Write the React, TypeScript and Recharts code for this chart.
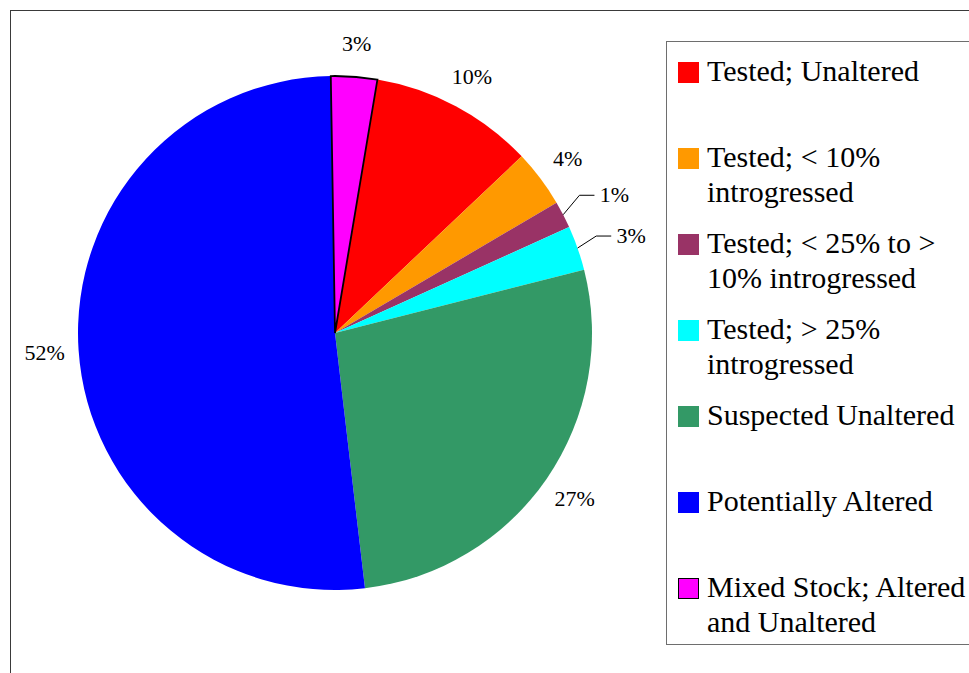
import React from "react";
import { PieChart, Pie, Cell, Legend } from "recharts";

const categories = [
  "Tested; Unaltered",
  "Tested; < 10% introgressed",
  "Tested; < 25% to > 10% introgressed",
  "Tested; > 25% introgressed",
  "Suspected Unaltered",
  "Potentially Altered",
  "Mixed Stock; Altered and Unaltered",
];
const shares = [10.3, 3.6, 1.7, 2.8, 27.1, 51.6, 2.9];
const pctLabels = ["10%", "4%", "1%", "3%", "27%", "52%", "3%"];
const colors = ["#FF0000", "#FF9900", "#993366", "#00FFFF", "#339966", "#0000FF", "#FF00FF"];
const outlined = ["Mixed Stock; Altered and Unaltered"];
const calloutSlices = ["Tested; < 25% to > 10% introgressed", "Tested; > 25% introgressed"];

const data = categories.map((name, i) => ({ name, value: shares[i], label: pctLabels[i] }));

const FONT = "'Liberation Serif', 'Times New Roman', serif";
const RAD = Math.PI / 180;

const polar = (cx: number, cy: number, r: number, angle: number) => ({
  x: cx + r * Math.cos(-angle * RAD),
  y: cy + r * Math.sin(-angle * RAD),
});

const renderLabel = (props: any) => {
  const { cx, cy, outerRadius, index, startAngle, endAngle } = props;
  const mid = props.midAngle ?? (startAngle + endAngle) / 2;
  const entry = data[index];
  const text = entry.label;
  if (calloutSlices.includes(entry.name)) {
    const t = polar(cx, cy, outerRadius + 55, mid - 1);
    const s = polar(cx, cy, outerRadius, mid);
    const ly = t.y + 1;
    return (
      <g key={`lbl-${index}`}>
        <path
          d={`M${s.x},${s.y}L${t.x - 35},${ly}L${t.x - 20},${ly}`}
          stroke="#000"
          strokeWidth={1}
          fill="none"
        />
        <text x={t.x} y={t.y} dy="0.35em" textAnchor="middle" fontFamily={FONT} fontSize={22} fill="#000">
          {text}
        </text>
      </g>
    );
  }
  const p = polar(cx, cy, outerRadius + 34, mid);
  return (
    <text key={`lbl-${index}`} x={p.x} y={p.y} dy="0.35em" textAnchor="middle" fontFamily={FONT} fontSize={22} fill="#000">
      {text}
    </text>
  );
};

const renderLegend = () => (
  <div
    style={{
      position: "relative",
      width: 400,
      height: 604,
      boxSizing: "border-box",
      border: "1.3px solid #6e6e6e",
      background: "#fff",
      fontFamily: FONT,
      fontSize: 30,
      lineHeight: "35px",
      color: "#000",
    }}
  >
    {data.map((d, i) => (
      <div
        key={d.name}
        style={{ position: "absolute", left: 0, top: 11 + i * 86, height: 86, width: 400 }}
      >
        <div
          style={{
            position: "absolute",
            left: 11,
            top: 9,
            width: 21,
            height: 21,
            boxSizing: "border-box",
            background: colors[i],
            border: outlined.includes(d.name) ? "1.5px solid #000" : "none",
          }}
        />
        <div style={{ position: "absolute", left: 40, top: 0, width: 272 }}>{d.name}</div>
      </div>
    ))}
  </div>
);

export default function App() {
  return (
    <div
      style={{
        position: "absolute",
        left: 0,
        top: 0,
        width: 969,
        height: 673,
        overflow: "hidden",
        background: "#fff",
      }}
    >
      <div
        style={{
          position: "absolute",
          left: 10,
          top: 10,
          width: 1100,
          height: 800,
          border: "1.6px solid #3a3a3a",
          boxSizing: "border-box",
        }}
      />
      <div style={{ position: "absolute", left: 0, top: 0 }}>
        <PieChart width={969} height={673} margin={{ top: 0, right: 0, bottom: 0, left: 0 }}>
          <Pie
            data={data}
            dataKey="value"
            nameKey="name"
            cx={335}
            cy={333}
            outerRadius={257}
            startAngle={80.5}
            endAngle={-279.5}
            stroke="none"
            label={renderLabel}
            labelLine={false}
            isAnimationActive={false}
          >
            {data.map((d, i) => (
              <Cell
                key={d.name}
                fill={colors[i]}
                stroke={outlined.includes(d.name) ? "#000" : "none"}
                strokeWidth={outlined.includes(d.name) ? 1.8 : 0}
              />
            ))}
          </Pie>
          <Legend
            content={renderLegend}
            wrapperStyle={{ position: "absolute", left: 666, top: 41, width: 400, height: 604 }}
          />
        </PieChart>
      </div>
    </div>
  );
}
